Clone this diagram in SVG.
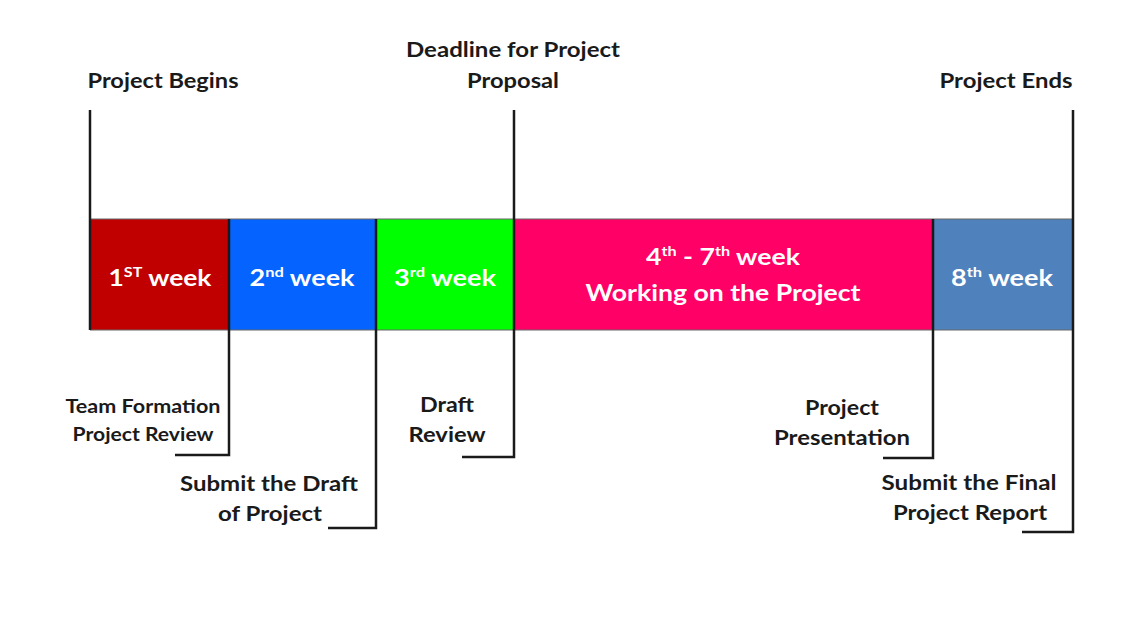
<svg xmlns="http://www.w3.org/2000/svg" width="1140" height="641" viewBox="0 0 1140 641">
<style>
text{font-family:Lato,"Open Sans","Liberation Sans",sans-serif;font-weight:700}
.lbl{fill:#1a1a1a;font-size:20px;text-anchor:middle}
.sm{fill:#1a1a1a;font-size:18px;text-anchor:middle}
.bar{fill:#ffffff;font-size:23px;text-anchor:middle}
.sup{font-size:14px}
.ln{stroke:#1a1a1a;stroke-width:2.5;fill:none}
.edge{stroke:#666;stroke-width:1;fill:none}
</style>
<rect width="1140" height="641" fill="#ffffff"/>
<g id="week1"><rect x="90" y="219" width="139" height="111" fill="#C00000"/>
<text class="bar" x="160" y="286" textLength="103" lengthAdjust="spacingAndGlyphs">1<tspan class="sup" dy="-9">ST</tspan><tspan dy="9"> week</tspan></text></g>
<g id="week2"><rect x="229" y="219" width="147" height="111" fill="#0563FF"/>
<text class="bar" x="302" y="286" textLength="105" lengthAdjust="spacingAndGlyphs">2<tspan class="sup" dy="-9">nd</tspan><tspan dy="9"> week</tspan></text></g>
<g id="week3"><rect x="376" y="219" width="138" height="111" fill="#00FF00"/>
<text class="bar" x="445" y="286" textLength="102" lengthAdjust="spacingAndGlyphs">3<tspan class="sup" dy="-9">rd</tspan><tspan dy="9"> week</tspan></text></g>
<g id="week4to7"><rect x="514" y="219" width="419" height="111" fill="#FF0066"/>
<text class="bar" x="723" y="265" textLength="154" lengthAdjust="spacingAndGlyphs">4<tspan class="sup" dy="-9">th</tspan><tspan dy="9"> - 7</tspan><tspan class="sup" dy="-9">th</tspan><tspan dy="9"> week</tspan></text>
<text class="bar" x="723" y="301" textLength="275" lengthAdjust="spacingAndGlyphs">Working on the Project</text></g>
<g id="week8"><rect x="933" y="219" width="140" height="111" fill="#4F81BD"/>
<text class="bar" x="1002" y="286" textLength="102" lengthAdjust="spacingAndGlyphs">8<tspan class="sup" dy="-9">th</tspan><tspan dy="9"> week</tspan></text></g>
<g id="connectors">
<line class="edge" x1="90" y1="219" x2="1073" y2="219"/>
<line class="edge" x1="90" y1="330" x2="1073" y2="330"/>
<polyline class="ln" points="90,110 90,330"/>
<polyline class="ln" points="514,110 514,457 462,457"/>
<polyline class="ln" points="1073,110 1073,532 1022,532"/>
<polyline class="ln" points="229,219 229,455 175,455"/>
<polyline class="ln" points="376,219 376,528 328,528"/>
<polyline class="ln" points="933,219 933,458 883,458"/>
</g>
<g id="project-begins"><text class="lbl" x="163" y="88" textLength="151" lengthAdjust="spacingAndGlyphs">Project Begins</text></g>
<g id="deadline"><text class="lbl" x="513" y="57" textLength="214" lengthAdjust="spacingAndGlyphs">Deadline for Project</text>
<text class="lbl" x="513" y="88" textLength="92" lengthAdjust="spacingAndGlyphs">Proposal</text></g>
<g id="project-ends"><text class="lbl" x="1006" y="88" textLength="133" lengthAdjust="spacingAndGlyphs">Project Ends</text></g>
<g id="team-formation"><text class="sm" x="143" y="413" textLength="155" lengthAdjust="spacingAndGlyphs">Team Formation</text>
<text class="sm" x="143" y="441" textLength="141" lengthAdjust="spacingAndGlyphs">Project Review</text></g>
<g id="submit-draft"><text class="lbl" x="269" y="491" textLength="178" lengthAdjust="spacingAndGlyphs">Submit the Draft</text>
<text class="lbl" x="270" y="521" textLength="104" lengthAdjust="spacingAndGlyphs">of Project</text></g>
<g id="draft-review"><text class="lbl" x="447" y="412" textLength="54" lengthAdjust="spacingAndGlyphs">Draft</text>
<text class="lbl" x="447" y="442" textLength="77" lengthAdjust="spacingAndGlyphs">Review</text></g>
<g id="presentation"><text class="lbl" x="842" y="415" textLength="74" lengthAdjust="spacingAndGlyphs">Project</text>
<text class="lbl" x="842" y="445" textLength="136" lengthAdjust="spacingAndGlyphs">Presentation</text></g>
<g id="final-report"><text class="lbl" x="969" y="490" textLength="175" lengthAdjust="spacingAndGlyphs">Submit the Final</text>
<text class="lbl" x="970" y="520" textLength="154" lengthAdjust="spacingAndGlyphs">Project Report</text></g>
</svg>
